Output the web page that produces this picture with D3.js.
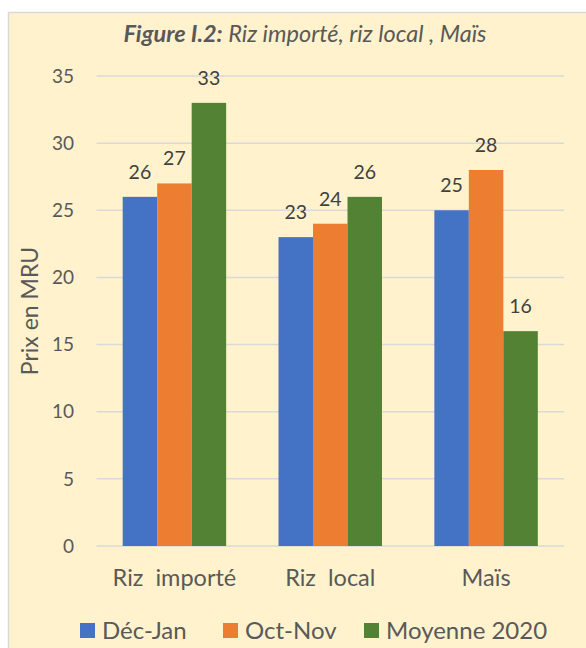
<!DOCTYPE html>
<html>
<head>
<meta charset="utf-8">
<script src="https://cdn.jsdelivr.net/npm/d3@7"></script>
<style>
  body { margin: 0; background: #fff; }
  text { font-family: Lato, "Open Sans", sans-serif; }
</style>
</head>
<body>
<div id="chart"></div>
<script>
var categories = ["Riz  importé", "Riz  local", "Maïs"];
var seriesNames = ["Déc-Jan", "Oct-Nov", "Moyenne 2020"];
var decJan = [26, 23, 25];
var octNov = [27, 24, 28];
var moyenne2020 = [33, 26, 16];
var yTicks = [0, 5, 10, 15, 20, 25, 30, 35];
var colors = ["#4472C4", "#ED7D31", "#548235"];

var series = [decJan, octNov, moyenne2020];

var w = 586, h = 648;
var margin = {left: 96.5, right: 22, top: 76, bottom: 102};

var svg = d3.select("#chart").append("svg")
    .attr("width", w)
    .attr("height", h);

// chart area background + border
svg.append("rect")
    .attr("x", 8.5).attr("y", 12.5)
    .attr("width", w + 10).attr("height", h + 10)
    .attr("fill", "#FFF2CC")
    .attr("stroke", "#D9D9D9")
    .attr("stroke-width", 1.5);

var x0 = d3.scaleBand()
    .domain(categories)
    .range([margin.left, w - margin.right])
    .paddingInner(0.336)
    .paddingOuter(0.168);

var x1 = d3.scaleBand()
    .domain(d3.range(series.length))
    .range([0, x0.bandwidth()]);

var y = d3.scaleLinear()
    .domain([0, 35])
    .range([h - margin.bottom, margin.top]);

// gridlines
svg.append("g")
    .selectAll("line")
    .data(yTicks)
    .enter()
    .append("line")
    .attr("x1", margin.left)
    .attr("x2", w - margin.right)
    .attr("y1", function(d) { return y(d); })
    .attr("y2", function(d) { return y(d); })
    .attr("stroke", "#D9D9D9")
    .attr("stroke-width", 1.5);

// y tick labels
svg.append("g")
    .selectAll("text")
    .data(yTicks)
    .enter()
    .append("text")
    .attr("x", 74)
    .attr("y", function(d) { return y(d); })
    .attr("dy", "0.35em")
    .attr("text-anchor", "end")
    .attr("font-size", 19)
    .attr("fill", "#595959")
    .text(function(d) { return d; });

// bars
var groups = svg.append("g")
    .selectAll("g")
    .data(categories)
    .enter()
    .append("g")
    .attr("transform", function(d) { return "translate(" + x0(d) + ",0)"; });

groups.selectAll("rect")
    .data(function(d, i) { return series.map(function(s, j) { return {k: j, v: s[i]}; }); })
    .enter()
    .append("rect")
    .attr("x", function(d) { return x1(d.k); })
    .attr("y", function(d) { return y(d.v); })
    .attr("width", x1.bandwidth())
    .attr("height", function(d) { return y(0) - y(d.v); })
    .attr("fill", function(d) { return colors[d.k]; });

groups.selectAll("text")
    .data(function(d, i) { return series.map(function(s, j) { return {k: j, v: s[i]}; }); })
    .enter()
    .append("text")
    .attr("x", function(d) { return x1(d.k) + x1.bandwidth() / 2; })
    .attr("y", function(d) { return y(d.v) - 18; })
    .attr("text-anchor", "middle")
    .attr("font-size", 19.5)
    .attr("fill", "#404040")
    .text(function(d) { return d.v; });

// category labels
svg.append("g")
    .selectAll("text")
    .data(categories)
    .enter()
    .append("text")
    .attr("x", function(d) { return x0(d) + x0.bandwidth() / 2; })
    .attr("y", 586)
    .attr("text-anchor", "middle")
    .attr("font-size", 23.5)
    .attr("fill", "#595959")
    .style("white-space", "pre")
    .text(function(d) { return d; });

// y axis title
svg.append("text")
    .attr("transform", "translate(38," + y(17.5) + ") rotate(-90)")
    .attr("text-anchor", "middle")
    .attr("font-size", 23)
    .attr("fill", "#595959")
    .text("Prix en MRU");

// title
var title = svg.append("text")
    .attr("x", 305)
    .attr("y", 42)
    .attr("text-anchor", "middle")
    .attr("font-size", 23.5)
    .attr("font-style", "italic")
    .attr("fill", "#595959");
title.append("tspan").attr("font-weight", "bold").text("Figure I.2:");
title.append("tspan").text(" Riz importé, riz local , Maïs");

// legend
var legendX = [80, 223, 364];
var legend = svg.append("g")
    .selectAll("g")
    .data(seriesNames)
    .enter()
    .append("g")
    .attr("transform", function(d, i) { return "translate(" + legendX[i] + ",623)"; });

legend.append("rect")
    .attr("width", 15).attr("height", 15)
    .attr("fill", function(d, i) { return colors[i]; });

legend.append("text")
    .attr("x", 22)
    .attr("y", 7.5)
    .attr("dy", "0.35em")
    .attr("font-size", 24)
    .attr("fill", "#595959")
    .text(function(d) { return d; });
</script>
</body>
</html>
